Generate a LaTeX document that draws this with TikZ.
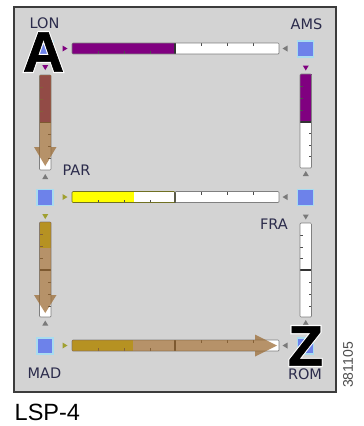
\documentclass[tikz,border=0pt]{standalone}
\usepackage{fontspec}
\setmainfont{Liberation Sans}
\newfontfamily\lblfont{DejaVu Sans}
\newfontfamily\outfont[FakeBold=5]{Liberation Sans Bold}
\newfontfamily\heavyfont[FakeBold=1.2]{Liberation Sans Bold}
\definecolor{bgc}{HTML}{D3D3D3}
\definecolor{framec}{HTML}{3C3C3C}
\definecolor{stblue}{HTML}{6D82EA}
\definecolor{glow}{HTML}{A9DCEF}
\definecolor{purp}{HTML}{800080}
\definecolor{yel}{HTML}{FFFF00}
\definecolor{tan}{HTML}{9A6930}
\definecolor{olive}{HTML}{A0A030}
\definecolor{mkgray}{HTML}{7A7A7A}
\definecolor{lblc}{HTML}{2B2B4B}
\tikzset{
  station/.style={draw=glow, line width=1.3pt, fill=stblue, minimum size=16pt, inner sep=0pt},
  lbl/.style={font=\lblfont\fontsize{14.5}{16}\selectfont, text=lblc, inner sep=0pt},
  barframe/.style={draw=black!50, line width=0.7pt, rounded corners=1pt},
  divider/.style={draw=black!80, line width=1.3pt},
  tickm/.style={draw=black!70, line width=0.7pt},
  flow/.style={fill=tan, fill opacity=0.72, draw=none},
  bigl/.style={font=\heavyfont\fontsize{57}{60}\selectfont, inner sep=0pt},
  bigo/.style={font=\outfont\fontsize{57}{60}\selectfont, inner sep=0pt, text=white},
}
\newcommand\mkR[3]{\fill[#1] ({#2-2.5},{#3-3}) -- ({#2+2.5},{#3}) -- ({#2-2.5},{#3+3}) -- cycle;}
\newcommand\mkL[3]{\fill[#1] ({#2+2.5},{#3-3}) -- ({#2-2.5},{#3}) -- ({#2+2.5},{#3+3}) -- cycle;}
\newcommand\mkD[3]{\fill[#1] ({#2-3},{#3-2.5}) -- ({#2},{#3+2.5}) -- ({#2+3},{#3-2.5}) -- cycle;}
\newcommand\mkU[3]{\fill[#1] ({#2-3},{#3+2.5}) -- ({#2},{#3-2.5}) -- ({#2+3},{#3+2.5}) -- cycle;}
\newcommand\outl[4]{%
  \node[bigo] (#1o) at (#2,#3) {#4};
  \node[bigl, text=black] (#1) at (#2,#3) {#4};}
\begin{document}
\begin{tikzpicture}[x=1pt,y=-1pt]
\useasboundingbox (0,0) rectangle (364,426);
\fill[white] (0,0) rectangle (364,426);
\draw[fill=bgc, draw=framec, line width=1.5pt] (14,7) rectangle (336,392);

% stations
\node[station] (LON) at (45,49) {};
\node[station] (AMS) at (305.5,49) {};
\node[station] (PAR) at (45,197.5) {};
\node[station] (FRA) at (305.5,197.5) {};
\node[station] (MAD) at (45,346) {};
\node[station] (ROM) at (305.5,346) {};

% ---- H1 LON-AMS
\fill[purp] (72,43) rectangle (175,54);
\fill[white] (175,43) rectangle (279,54);
\foreach \x in {98,124,150} \draw[tickm] (\x,54) -- (\x,51);
\foreach \x in {201,227,253} \draw[tickm] (\x,43) -- (\x,46);
\draw[divider] (175,43) -- (175,54);
\draw[barframe] (72,43) rectangle (279,54);
\mkR{purp}{65}{48.5}
\mkL{mkgray}{285}{48.5}

% ---- H2 PAR-FRA
\fill[yel] (72,191.5) rectangle (134,202.5);
\fill[white] (134,191.5) rectangle (279,202.5);
\foreach \x in {98,124,150} \draw[tickm] (\x,202.5) -- (\x,199.5);
\foreach \x in {201,227,253} \draw[tickm] (\x,191.5) -- (\x,194.5);
\draw[divider] (175,191.5) -- (175,202.5);
\draw[barframe, draw=olive!70!black] (72,191.5) rectangle (175,202.5);
\draw[barframe] (175,191.5) rectangle (279,202.5);
\mkR{olive}{65}{197}
\mkL{mkgray}{285}{197}

% ---- H3 MAD-ROM
\fill[yel] (72,340) rectangle (133,351);
\fill[white] (133,340) rectangle (279,351);
\foreach \x in {98,124,150} \draw[tickm] (\x,351) -- (\x,348);
\foreach \x in {201,227,253} \draw[tickm] (\x,340) -- (\x,343);
\draw[divider] (175,340) -- (175,351);
\draw[barframe] (72,340) rectangle (279,351);
\fill[flow] (72,340) -- (255,340) -- (255,334.5) -- (277,345.5) -- (255,356.5) -- (255,351) -- (72,351) -- cycle;
\mkR{olive}{65}{345.5}
\mkL{mkgray}{285}{345.5}

% ---- V1 LON-PAR
\fill[purp] (39.5,75) rectangle (51,122.5);
\fill[white] (39.5,122.5) rectangle (51,170);
\foreach \y in {87,99,111} \draw[tickm] (39.5,\y) -- (42.5,\y);
\foreach \y in {134,146,158} \draw[tickm] (51,\y) -- (48,\y);
\draw[divider] (39.5,122.5) -- (51,122.5);
\draw[barframe] (39.5,75) rectangle (51,170);
\fill[flow] (39.5,75) -- (51,75) -- (51,147) -- (56.5,147) -- (45.25,166) -- (34,147) -- (39.5,147) -- cycle;
\mkD{purp}{45.25}{67.5}
\mkU{mkgray}{45.25}{176.5}

% ---- V2 AMS-FRA
\fill[purp] (300,74) rectangle (311.5,122);
\fill[white] (300,122) rectangle (311.5,168);
\foreach \y in {86,98,110} \draw[tickm] (300,\y) -- (303,\y);
\foreach \y in {133.5,145,156.5} \draw[tickm] (311.5,\y) -- (308.5,\y);
\draw[divider] (300,122) -- (311.5,122);
\draw[barframe] (300,74) rectangle (311.5,168);
\mkD{purp}{305.75}{68}
\mkU{mkgray}{305.75}{173.5}

% ---- V3 PAR-MAD
\fill[yel] (39.5,222) rectangle (51,248);
\fill[white] (39.5,248) rectangle (51,317);
\foreach \y in {234,246,258} \draw[tickm] (39.5,\y) -- (42.5,\y);
\foreach \y in {282,294,306} \draw[tickm] (51,\y) -- (48,\y);
\draw[divider] (39.5,270) -- (51,270);
\draw[barframe] (39.5,222) rectangle (51,317);
\fill[flow] (39.5,222) -- (51,222) -- (51,295) -- (56.5,295) -- (45.25,313) -- (34,295) -- (39.5,295) -- cycle;
\mkD{olive}{45.25}{216.5}
\mkU{mkgray}{45.25}{323}

% ---- V4 FRA-ROM
\fill[white] (300,223) rectangle (311.5,317);
\foreach \y in {235,247,258} \draw[tickm] (300,\y) -- (303,\y);
\foreach \y in {282,294,306} \draw[tickm] (311.5,\y) -- (308.5,\y);
\draw[divider] (300,270) -- (311.5,270);
\draw[barframe] (300,223) rectangle (311.5,317);
\mkD{mkgray}{305.75}{217}
\mkU{mkgray}{305.75}{322.5}

% labels
\node[lbl] (tLON) at (44.5,23.5) {LON};
\node[lbl] (tAMS) at (306.5,24) {AMS};
\node[lbl] (tPAR) at (76.5,170.5) {PAR};
\node[lbl] (tFRA) at (274,224) {FRA};
\node[lbl] (tMAD) at (44.5,373.5) {MAD};
\node[lbl] (tROM) at (305,374.5) {ROM};

% big letters
\outl{bigA}{43.5}{52}{A}
\outl{bigZ}{305.5}{346}{Z}

\node[font=\fontsize{23.5}{26}\selectfont, inner sep=0pt, anchor=west] (cap) at (14.5,412) {LSP-4};
\node[font=\fontsize{14}{16}\selectfont, text=black!70, inner sep=0pt, rotate=90] (num) at (348,365) {381105};
\end{tikzpicture}
\end{document}
